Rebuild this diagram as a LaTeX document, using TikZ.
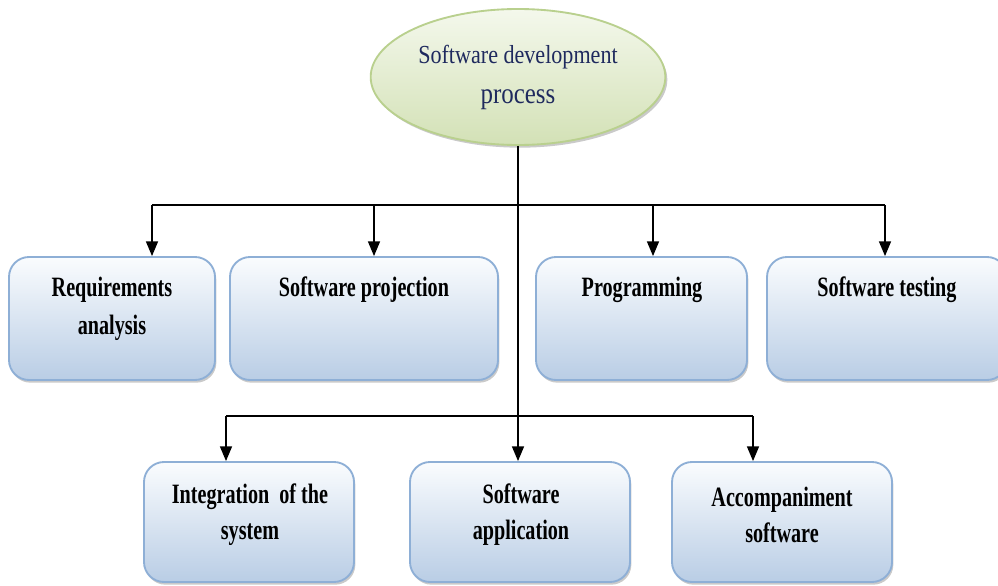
\documentclass[tikz,border=0pt]{standalone}
\usepackage{fontspec}
\setmainfont{Liberation Serif}
\newfontfamily\boxfont[FakeStretch=0.72]{Liberation Serif}
\newfontfamily\ellfont[FakeStretch=0.85]{Liberation Serif}
\usetikzlibrary{shapes.geometric}
\usetikzlibrary{shadows}
\usetikzlibrary{arrows.meta}

\definecolor{boxtop}{HTML}{FAFCFE}
\definecolor{boxbot}{HTML}{B9CDE5}
\definecolor{boxline}{HTML}{8EAFD6}
\definecolor{elltop}{HTML}{F4F8EC}
\definecolor{ellbot}{HTML}{D3E1B6}
\definecolor{ellline}{HTML}{B9D08E}
\definecolor{navy}{HTML}{1F2A5E}

\begin{document}
\begin{tikzpicture}[x=0.75pt,y=0.75pt,yscale=-1,xscale=1,
  stepbox/.style={draw=boxline,line width=1.4pt,rounded corners=15pt,top color=boxtop,bottom color=boxbot,
    drop shadow={shadow xshift=1pt,shadow yshift=-2pt,opacity=0.35,fill=black!60}},
  boxtext/.style={font=\boxfont\bfseries\fontsize{21}{28.5}\selectfont,align=center,inner sep=0pt},
  conn/.style={line width=1pt},
  arrow/.style={conn,-{Triangle[width=9pt,length=11pt]}}]
\useasboundingbox (0,0) rectangle (998,585);

%Shape: Ellipse
\node[ellipse,draw=ellline,line width=1.4pt,top color=elltop,bottom color=ellbot,
  minimum width=216pt,minimum height=102pt,text=navy,align=center,
  drop shadow={shadow xshift=1.5pt,shadow yshift=-2pt,opacity=0.35,fill=black!60},
  font=\ellfont\fontsize{19.5}{30}\selectfont] (proc) at (518,77)
  {Software development\\{\fontsize{22}{30}\selectfont process}};

%Shape: Rounded boxes, upper row
\node[stepbox,minimum width=154.5pt,minimum height=92.25pt] (req) at (112,318.5) {};
\node[stepbox,minimum width=201pt,minimum height=92.25pt] (proj) at (364,318.5) {};
\node[stepbox,minimum width=158.25pt,minimum height=92.25pt] (prog) at (641.5,318.5) {};
\node[stepbox,minimum width=180pt,minimum height=92.25pt] (test) at (887,318.5) {};

%Shape: Rounded boxes, lower row
\node[stepbox,minimum width=157.5pt,minimum height=90pt] (integ) at (249,522) {};
\node[stepbox,minimum width=165pt,minimum height=90pt] (app) at (520,522) {};
\node[stepbox,minimum width=165pt,minimum height=90pt] (acc) at (782,522) {};

% Text Node
\node[boxtext] (reqtxt) at (112,309) {Requirements\\analysis};
% Text Node
\node[boxtext] (projtxt) at (364,290) {Software projection};
% Text Node
\node[boxtext] (progtxt) at (642,290) {Programming};
% Text Node
\node[boxtext] (testtxt) at (887,290) {Software testing};
% Text Node
\node[boxtext,font=\boxfont\bfseries\fontsize{21}{27}\selectfont] (integtxt) at (250,515) {Integration\ \ of the\\system};
% Text Node
\node[boxtext,font=\boxfont\bfseries\fontsize{21}{27}\selectfont] (apptxt) at (521,515) {Software\\application};
% Text Node
\node[boxtext,font=\boxfont\bfseries\fontsize{21}{27}\selectfont] (acctxt) at (782,515) {Accompaniment\\software};

%Straight Lines: bus ends
\coordinate (b1) at (152,205);
\coordinate (b2) at (374,205);
\coordinate (b3) at (653,205);
\coordinate (b4) at (885,205);
\coordinate (c1) at (226,416);
\coordinate (c3) at (753,416);

%Straight Lines: trunk and buses
\draw[arrow] (proc.south) -- (proc.south |- app.north);
\draw[conn] (b1) -- (b4);
\draw[conn] (c1) -- (c3);

%Straight Lines: arrows down
\draw[arrow] (b1) -- (b1 |- req.north);
\draw[arrow] (b2) -- (b2 |- proj.north);
\draw[arrow] (b3) -- (b3 |- prog.north);
\draw[arrow] (b4) -- (b4 |- test.north);
\draw[arrow] (c1) -- (c1 |- integ.north);
\draw[arrow] (c3) -- (c3 |- acc.north);

\end{tikzpicture}
\end{document}
